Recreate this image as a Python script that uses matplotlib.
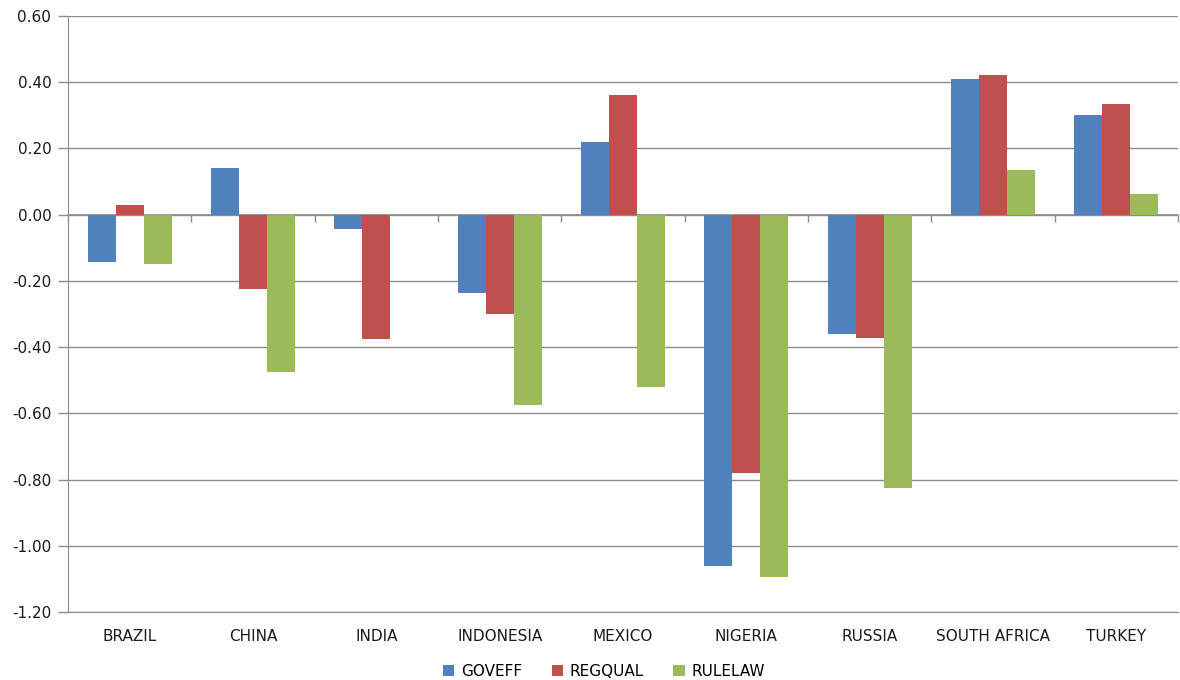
import matplotlib
matplotlib.use("Agg")
import matplotlib.pyplot as plt
import numpy as np

categories = ["BRAZIL", "CHINA", "INDIA", "INDONESIA", "MEXICO", "NIGERIA", "RUSSIA", "SOUTH AFRICA", "TURKEY"]
goveff = [-0.142, 0.142, -0.042, -0.236, 0.220, -1.060, -0.361, 0.410, 0.300]
regqual = [0.030, -0.226, -0.377, -0.300, 0.361, -0.780, -0.373, 0.422, 0.334]
rulelaw = [-0.148, -0.476, 0.0, -0.574, -0.521, -1.093, -0.825, 0.136, 0.062]
series_names = ["GOVEFF", "REGQUAL", "RULELAW"]
colors = ["#4F81BD", "#C0504D", "#9BBB59"]
yticks = [0.60, 0.40, 0.20, 0.00, -0.20, -0.40, -0.60, -0.80, -1.00, -1.20]

plt.rcParams['font.family'] = ['DejaVu Sans']

fig = plt.figure(figsize=(11.8, 6.8), dpi=100)
ax = fig.add_axes([68/1180, 1-612/680, (1178-68)/1180, (612-16)/680])

x = np.arange(len(categories))
w = 0.227
for i, (vals, name, c) in enumerate(zip([goveff, regqual, rulelaw], series_names, colors)):
    ax.bar(x + (i-1)*w, vals, width=w, color=c, label=name, zorder=3, edgecolor='none')

ymin, ymax = -1.2, 0.6
ax.set_xlim(-0.5, len(categories)-0.5)
ax.set_ylim(ymin, ymax)
ax.set_yticks(yticks)
ax.set_yticklabels([f"{v:.2f}" for v in yticks], fontsize=11, color='#1a1a1a')
ax.yaxis.grid(True, color='#8c8c8c', linewidth=1.0, zorder=0)
ax.set_axisbelow(True)
ax.tick_params(axis='y', length=7, color='#8c8c8c', width=1.0, pad=5)
for s in ['top', 'right']:
    ax.spines[s].set_visible(False)
ax.spines['left'].set_color('#8c8c8c')
ax.spines['bottom'].set_color('#8c8c8c')

ax.set_xticks(x)
ax.set_xticklabels(categories, fontsize=11, color='#1a1a1a')
ax.tick_params(axis='x', length=0, pad=12)

# zero-line axis with boundary ticks pointing down
sec = ax.secondary_xaxis(location=(0 - ymin) / (ymax - ymin))
sec.xaxis.set_ticks_position('bottom')
sec.set_xticks(np.arange(len(categories)+1) - 0.5)
sec.set_xticklabels([])
sec.tick_params(axis='x', which='both', length=5, color='#8c8c8c', width=1.0,
                direction='out', bottom=True, top=False)
for s in sec.spines.values():
    s.set_color('#8c8c8c')
    s.set_linewidth(1.2)

fig.legend(loc='center', bbox_to_anchor=(604/1180, 1-671/680), ncol=3, frameon=False,
           fontsize=11, handlelength=0.75, handleheight=0.75, handletextpad=0.45, columnspacing=1.9)

fig.savefig("out.png", dpi=100, facecolor='white')
